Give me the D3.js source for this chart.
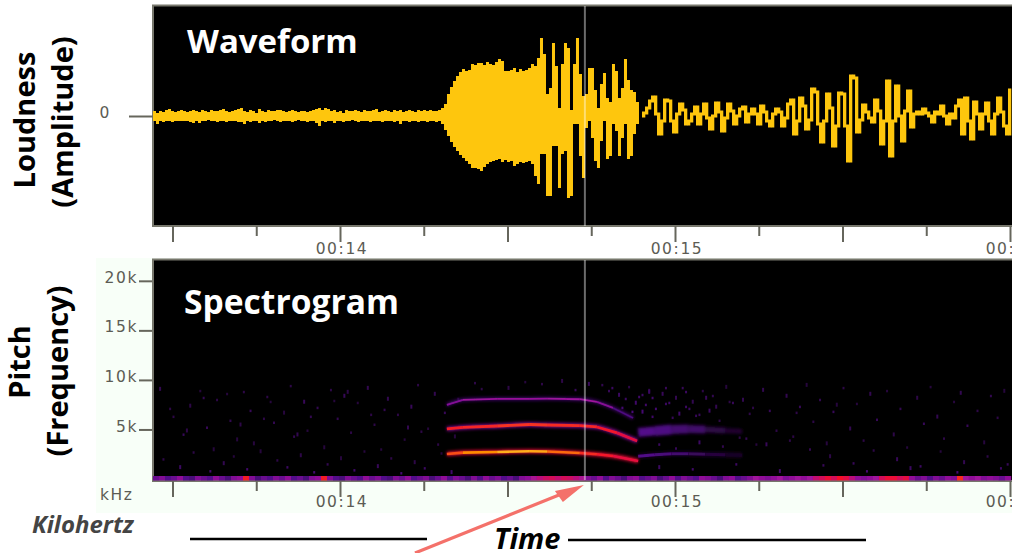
<!DOCTYPE html>
<html>
<head>
<meta charset="utf-8">
<script src="https://cdn.jsdelivr.net/npm/d3@7"></script>
<style>
  html, body { margin: 0; padding: 0; background: #fff; overflow: hidden; }
  .tick-label { font-family: "DejaVu Sans", sans-serif; font-size: 15.5px; fill: #5c5c54; letter-spacing: 1.6px; }
  .panel-title { font-family: "Open Sans", sans-serif; font-weight: 700; fill: #fff; }
  .axis-title { font-family: "Open Sans", sans-serif; font-weight: 700; fill: #000; }
</style>
</head>
<body>
<svg id="chart" width="1012" height="553">
  <defs>
    <filter id="soft" filterUnits="userSpaceOnUse" x="0" y="0" width="1012" height="553"><feGaussianBlur stdDeviation="0.45"/></filter>
    <filter id="softer" filterUnits="userSpaceOnUse" x="0" y="0" width="1012" height="553"><feGaussianBlur stdDeviation="0.7"/></filter>
    <filter id="softest" filterUnits="userSpaceOnUse" x="0" y="0" width="1012" height="553"><feGaussianBlur stdDeviation="1.4"/></filter>
  </defs>
</svg>
<script>
// time of the first waveform column, and the seconds each column covers
var waveStart = 13.4418;
var waveStep = 0.008955;

// loud part of the recording: top and bottom of each column
var waveHigh = [
  5,3,5,4,6,7,5,4,5,6,5,4,5,6,5,4,6,5,4,6,5,5,6,7,5,4,5,6,7,8,
  5,4,6,5,3,7,5,4,6,5,5,6,6,5,4,5,6,5,4,5,5,4,5,6,7,8,6,8,7,5,
  6,4,5,3,6,5,5,6,5,4,6,5,5,6,7,4,5,6,5,4,6,5,6,4,5,6,5,4,6,5,
  6,5,6,5,5,6,8,12,
  22,29,35,40,44,47,45,46,52,51,53,53,51,54,52,51,54,57,55,45,45,46,48,44,47,45,46,48,52,50,
  58,78,62,22,28,73,50,8,52,73,68,6,52,78,42,20,22,48,48,26,8,32,43,18,14,52,45,18,28,57,
  36,26,24,14,5
];
var waveLow = [
  -5,-8,-5,-6,-5,-5,-6,-5,-5,-5,-5,-5,-6,-7,-5,-7,-5,-5,-4,-5,-5,-6,-5,-5,-6,-5,-5,-5,-6,-6,
  -8,-5,-6,-5,-5,-7,-5,-6,-5,-5,-4,-5,-6,-5,-5,-5,-6,-5,-4,-5,-5,-6,-5,-5,-7,-10,-5,-6,-5,-5,
  -7,-5,-5,-6,-5,-5,-4,-5,-6,-5,-5,-5,-6,-5,-5,-5,-6,-5,-5,-5,-6,-5,-8,-5,-5,-6,-5,-5,-6,-5,
  -5,-6,-5,-5,-6,-5,-8,-14,
  -20,-26,-31,-35,-39,-42,-45,-48,-52,-52,-53,-55,-51,-48,-46,-45,-44,-43,-46,-44,-46,-45,-50,-48,-46,-47,-46,-45,-48,-60,
  -68,-38,-38,-80,-80,-30,-30,-72,-38,-35,-82,-80,-8,-8,-40,-62,-12,-5,-22,-45,-52,-25,-5,-43,-40,-8,-15,-40,-22,-8,
  -43,-40,-18,-8,-8
];

// quieter part: a thin trace, one value per column
var traceStart = 14.9015;
var traceValues = [
  0,3,8,15,19,2,-18,-5,16,15,-5,-16,2,12,6,-8,-5,2,9,-8,2,12,-2,-13,0,13,4,-15,-2,12,
  5,-8,0,7,9,-6,2,7,2,-8,10,4,-5,-10,2,7,4,-10,-2,12,16,-18,-5,18,10,-13,-4,27,24,-8,
  -26,-5,22,8,-30,-10,23,22,-10,-45,40,38,-16,-4,11,4,-2,-6,16,5,-28,-5,35,-40,-5,30,0,-25,5,25,
  -11,2,4,2,7,3,0,-6,4,2,10,0,-8,2,-2,10,16,-18,18,-5,-23,14,2,-13,2,13,-5,-18,2,18,
  4,-10,-18,26
];

// the three harmonics of the call: time, kHz and strength along each one
var harmonicTimes = [14.319, 14.367, 14.469, 14.567, 14.618, 14.716, 14.767, 14.815, 14.875];
var upperKhz = [7.47, 7.98, 8.08, 8.09, 8.11, 8.05, 7.78, 7.17, 6.16];
var upperLevel = [0.4, 0.46, 0.52, 0.44, 0.52, 0.46, 0.54, 0.34, 0.2];
var middleTimes = [14.319, 14.367, 14.469, 14.567, 14.618, 14.716, 14.767, 14.827, 14.887];
var middleKhz = [5.05, 5.22, 5.35, 5.5, 5.45, 5.38, 5.25, 4.65, 3.84];
var middleLevel = [0.72, 0.72, 0.74, 0.76, 0.74, 0.74, 0.72, 0.7, 0.62];
var lowerTimes = [14.319, 14.367, 14.469, 14.567, 14.618, 14.716, 14.767, 14.815, 14.89];
var lowerKhz = [2.53, 2.66, 2.73, 2.8, 2.78, 2.63, 2.5, 2.32, 1.82];
var lowerLevel = [0.74, 0.84, 0.92, 0.94, 0.9, 0.76, 0.72, 0.7, 0.64];

// faint echoes left behind after the call
var tailTimes = [14.89, 14.94, 14.99, 15.04, 15.09, 15.15, 15.2];
var tailUpperKhz = [4.7, 4.85, 5.0, 5.05, 5.0, 4.9, 4.8];
var tailUpperWidth = [9, 10, 9, 8, 6, 5, 3];
var tailLowerKhz = [2.3, 2.45, 2.55, 2.55, 2.5, 2.45, 2.4];
var tailLevel = [0.3, 0.28, 0.24, 0.22, 0.14, 0.1, 0.05];

// low rumble along the bottom of the spectrogram, one value every 6 pixels
var rumbleLevels = [
  .36,.42,.3,.36,.46,.3,.26,.42,.36,.3,.46,.36,.26,.42,.46,.72,.42,.26,.36,.3,.42,.36,.46,.3,.36,.26,.42,.46,.72,
  .42,.3,.26,.42,.36,.3,.46,.36,.42,.3,.26,.42,.36,.46,.3,.36,.42,.26,.36,.46,.3,.42,.36,.26,.42,.3,.46,.36,.42,.3,.36,.26,.42,.46,
  .52,.56,.6,.62,.58,.62,.6,.56,.52,
  .42,.36,.46,.3,.42,.36,.26,.42,.46,.3,.36,.42,.26,.36,.46,.3,.42,.36,.3,.46,.42,.36,.26,.42,.46,.3,.36,.42,.5,.46,.42,.46,.5,.42,.46,.5,.46,.5,
  .58,.62,.68,.62,.7,.66,.56,.46,.42,.46,.5,.62,.68,.68,.62,.66,.46,.36,.42,.3,.42,.36,.46,.42,.74,.5,.46,.5,.42,.46,.42,.36,.46
];

// scattered noise specks
var speckTimes = [
  13.46,13.5,13.53,13.55,13.58,13.6,13.62,13.63,13.67,13.69,13.71,13.73,13.74,13.78,13.8,13.83,13.85,13.86,13.89,13.9,
  13.93,13.95,13.97,13.99,14.01,14.03,14.05,14.08,14.1,14.12,14.14,14.17,14.19,14.21,14.23,14.26,14.28,14.29,14.31,14.34,
  14.42,14.55,14.66,14.78,14.8,14.83,14.85,14.86,14.88,14.9,14.91,14.92,14.93,14.94,14.96,14.97,14.99,15.0,15.02,15.03,
  15.05,15.06,15.08,15.1,15.11,15.13,15.15,15.17,15.19,15.2,15.22,15.24,15.26,15.28,15.3,15.33,15.35,15.37,15.39,15.41,
  15.43,15.45,15.47,15.5,15.52,15.54,15.56,15.58,15.6,15.63,15.65,15.67,15.69,15.72,15.74,15.76,15.78,15.8,15.83,15.85,
  15.87,15.9,15.92,15.94,15.96,15.98,14.84,14.87,14.9,14.93,14.98,15.01,15.04,15.07,15.12,15.16,
  13.47,13.52,13.56,13.61,13.65,13.68,13.72,13.76,13.81,13.84,13.88,13.92,13.96,14.0,14.04,14.07,14.11,14.15,14.18,14.22,
  14.25,14.3,14.33,13.49,13.59,13.7,13.79,13.91,14.02,14.13,14.24,14.35,14.95,15.0,15.07,15.14,15.21,15.27,15.34,15.4,
  15.46,15.53,15.59,15.66,15.73,15.79,15.86,15.93,15.99,14.95,15.05,15.18,15.31,15.44,15.57,15.7,15.84,15.97,13.54,13.66,
  13.77,13.87,13.98,14.09,14.2,14.32,14.4,14.5,14.6,14.7,14.74,14.81,14.89,14.92,14.97,15.03,15.09,15.23,15.36,15.48
];
var speckKhz = [
  9.3,6.4,4.6,7.6,9.0,5.3,3.2,8.1,6.0,4.2,8.9,7.0,3.8,8.4,5.8,6.9,9.5,4.4,8.0,5.0,
  7.3,3.4,9.1,6.2,8.6,4.8,7.8,9.4,5.6,3.1,8.3,6.6,4.1,7.5,9.6,5.2,8.8,3.6,6.8,4.5,
  9.2,9.9,10.1,9.6,9.0,8.7,8.2,9.4,7.9,8.6,7.6,9.1,8.3,7.2,8.8,7.7,6.3,8.4,9.3,7.4,
  8.0,6.5,9.0,7.1,8.5,6.0,9.5,7.8,4.3,8.2,6.7,3.6,9.2,7.0,5.0,8.6,4.4,7.4,9.7,5.9,
  8.1,3.8,6.9,9.3,5.3,7.7,4.0,8.8,6.1,9.0,4.7,7.2,3.3,8.4,5.7,9.4,6.5,4.2,7.9,8.9,
  5.5,7.0,3.9,8.5,6.3,9.1,7.3,6.9,7.0,6.4,7.8,6.8,7.2,6.6,7.5,7.9,
  2.1,1.4,2.8,0.9,1.8,2.4,1.1,3.0,2.0,1.3,2.6,0.8,1.6,2.3,1.0,2.9,1.5,2.2,0.7,1.9,
  1.2,2.7,0.9,7.2,8.3,5.7,7.9,6.4,9.0,7.1,4.9,8.2,3.6,3.2,3.9,3.4,4.2,3.7,4.0,3.1,
  2.5,1.7,3.0,2.2,1.4,2.9,1.9,2.4,1.6,1.4,1.1,1.6,1.0,1.5,0.9,1.3,0.8,1.2,5.1,8.7,
  6.2,4.7,8.0,6.6,5.4,7.6,9.8,9.4,9.7,9.1,9.8,9.3,8.4,9.0,9.3,8.9,8.4,7.3,6.8,7.7
];
var speckLevels = [
  .16,.14,.18,.14,.12,.18,.12,.14,.16,.12,.14,.18,.12,.14,.16,.12,.14,.16,.18,.12,
  .16,.12,.14,.16,.18,.14,.12,.16,.14,.12,.16,.14,.12,.18,.14,.12,.16,.14,.18,.12,
  .14,.12,.14,.16,.18,.2,.2,.14,.22,.2,.22,.16,.22,.24,.18,.2,.18,.16,.18,.2,
  .16,.18,.14,.2,.16,.14,.12,.18,.14,.16,.14,.12,.16,.18,.14,.16,.14,.18,.12,.14,
  .16,.12,.18,.14,.16,.12,.14,.16,.18,.12,.14,.16,.12,.14,.18,.12,.16,.14,.12,.16,
  .18,.14,.12,.16,.14,.12,.24,.26,.24,.22,.2,.22,.2,.18,.16,.14,
  .14,.2,.14,.24,.16,.12,.22,.12,.14,.2,.14,.24,.16,.12,.22,.12,.18,.14,.24,.14,
  .2,.12,.22,.14,.16,.14,.12,.16,.14,.16,.14,.12,.2,.18,.2,.16,.16,.18,.14,.16,
  .14,.18,.14,.18,.2,.12,.16,.14,.18,.2,.22,.2,.22,.18,.24,.2,.24,.2,.14,.12,
  .14,.16,.12,.14,.16,.12,.14,.14,.14,.18,.18,.2,.22,.2,.18,.2,.18,.14,.14,.12
];

var majorTicks = [13.5, 14, 14.5, 15, 15.5, 16];
var minorTicks = [13.75, 14.25, 14.75, 15.25, 15.75];
var labelledTicks = [14, 15, 16];
var freqTicks = [5, 10, 15, 20];
var cursorTime = 14.731;

var svg = d3.select('#chart');

var x = d3.scaleLinear().domain([13.5, 16]).range([172.5, 1010]);
var amp = d3.scaleLinear().domain([-110, 110]).range([226, 6]);
var freq = d3.scaleLinear().domain([0, 22]).range([479, 261]);

// colour of the spectrogram from silence up to the loudest energy
var heat = d3.scaleLinear()
  .domain([0, 0.15, 0.3, 0.5, 0.7, 0.88, 1])
  .range(['#000000', '#30084c', '#52098a', '#a0129c', '#f4102c', '#ff8c00', '#ffe040']);

function columnTime(i) {
  return waveStart + i * waveStep;
}
function traceTime(i) {
  return traceStart + i * waveStep;
}

//背景
svg.append('rect').attr('x', 96).attr('y', 258).attr('width', 916).attr('height', 255).attr('fill', '#f8fff8');

//枠
svg.append('rect').attr('x', 153).attr('y', 5.5).attr('width', 870).attr('height', 220.5)
  .attr('fill', '#000').attr('stroke', '#77776c').attr('stroke-width', 2);
svg.append('rect').attr('x', 153).attr('y', 259.5).attr('width', 870).attr('height', 221.5)
  .attr('fill', '#000').attr('stroke', '#77776c').attr('stroke-width', 2);

//波形
var wave = svg.append('g').attr('filter', 'url(#soft)');
var band = d3.area()
  .x(function(d, i) { return x(columnTime(i)); })
  .y0(function(d, i) { return amp(waveLow[i]); })
  .y1(function(d) { return amp(d); })
  .curve(d3.curveStepAfter);
wave.append('path').attr('d', band(waveHigh)).attr('fill', '#fec610');

// each column of the trace joins one value to the next, with a little body
wave.selectAll('rect.column')
  .data(d3.pairs(traceValues))
  .enter()
  .append('rect')
  .attr('class', 'column')
  .attr('x', function(d, i) { return x(traceTime(i)); })
  .attr('y', function(d) { return amp(Math.max(d[0], d[1]) + 1.5); })
  .attr('width', x(traceTime(1)) - x(traceTime(0)) + 0.3)
  .attr('height', function(d) { return amp(Math.min(d[0], d[1]) - 1.5) - amp(Math.max(d[0], d[1]) + 1.5); })
  .attr('fill', '#fec610');

//スペクトログラム
var spec = svg.append('g');

spec.selectAll('rect.speck')
  .data(speckTimes)
  .enter()
  .append('rect')
  .attr('class', 'speck')
  .attr('x', function(d) { return x(d); })
  .attr('y', function(d, i) { return freq(speckKhz[i]); })
  .attr('width', 2)
  .attr('height', function(d, i) { return i % 3 == 0 ? 4 : 2.5; })
  .attr('fill', function(d, i) { return heat(speckLevels[i]); });

var soft = spec.append('g').attr('filter', 'url(#soft)');
soft.selectAll('rect.rumble')
  .data(rumbleLevels)
  .enter()
  .append('rect')
  .attr('class', 'rumble')
  .attr('x', function(d, i) { return x(waveStart + i * 2 * waveStep); })
  .attr('y', 476)
  .attr('width', 6.2)
  .attr('height', 4.5)
  .attr('fill', function(d) { return heat(d); });

// one harmonic is drawn as short pieces, each with its own colour
function drawHarmonic(times, khz, levels, width, glow) {
  var pieces = d3.pairs(d3.range(times.length));
  var line = d3.line()
    .x(function(i) { return x(times[i]); })
    .y(function(i) { return freq(khz[i]); })
    .curve(d3.curveMonotoneX);
  var halo = spec.append('g').attr('fill', 'none').attr('filter', 'url(#softest)');
  halo.append('path').attr('d', line(d3.range(times.length)))
    .attr('stroke', heat(glow)).attr('stroke-width', width + 2).attr('opacity', 0.85);
  var g = spec.append('g').attr('fill', 'none').attr('filter', 'url(#softer)');
  g.selectAll('path.piece')
    .data(pieces)
    .enter()
    .append('path')
    .attr('class', 'piece')
    .attr('d', function(d) { return line(d); })
    .attr('stroke', function(d) { return heat((levels[d[0]] + levels[d[1]]) / 2); })
    .attr('stroke-width', width);
}

// the wide echo changes thickness as it fades
var echo = spec.append('g').attr('filter', 'url(#softest)');
echo.selectAll('path')
  .data(d3.pairs(d3.range(tailTimes.length)))
  .enter()
  .append('path')
  .attr('d', function(d) {
    return d3.line()
      .x(function(i) { return x(tailTimes[i]); })
      .y(function(i) { return freq(tailUpperKhz[i]); })(d);
  })
  .attr('fill', 'none')
  .attr('stroke', function(d) { return heat(tailLevel[d[0]]); })
  .attr('stroke-width', function(d) { return tailUpperWidth[d[0]]; });

drawHarmonic(tailTimes, tailLowerKhz, tailLevel, 3, 0.08);
drawHarmonic(harmonicTimes, upperKhz, upperLevel, 1.8, 0.22);
drawHarmonic(middleTimes, middleKhz, middleLevel, 2.8, 0.45);
drawHarmonic(lowerTimes, lowerKhz, lowerLevel, 2.6, 0.68);

//カーソル
[[6, 226], [260, 480]].forEach(function(span) {
  svg.append('line')
    .attr('x1', x(cursorTime)).attr('x2', x(cursorTime))
    .attr('y1', span[0]).attr('y2', span[1])
    .attr('stroke', '#fff').attr('stroke-opacity', 0.42).attr('stroke-width', 2);
});

//時間軸
function drawTimeAxis(top, labelY) {
  var major = d3.axisBottom(x).tickValues(majorTicks).tickSize(16).tickFormat('');
  var minor = d3.axisBottom(x).tickValues(minorTicks).tickSize(10).tickFormat('');
  [major, minor].forEach(function(axis) {
    var g = svg.append('g').attr('transform', 'translate(0,' + top + ')').call(axis);
    g.select('.domain').remove();
    g.selectAll('line').attr('stroke', '#66665c').attr('stroke-width', 2);
  });
  svg.selectAll(null)
    .data(labelledTicks)
    .enter()
    .append('text')
    .attr('class', 'tick-label')
    .attr('x', function(d) { return x(d) + 2; })
    .attr('y', labelY)
    .attr('text-anchor', 'middle')
    .text(function(d) { return '00:' + d; });
}
drawTimeAxis(226, 254);
drawTimeAxis(481, 507);

//周波数軸
var freqAxis = d3.axisLeft(freq).tickValues(freqTicks).tickSize(13).tickPadding(1)
  .tickFormat(function(d) { return d + 'k'; });
var freqG = svg.append('g').attr('transform', 'translate(152,0)').call(freqAxis);
freqG.select('.domain').remove();
freqG.selectAll('line').attr('stroke', '#66665c').attr('stroke-width', 2);
freqG.selectAll('text').attr('class', 'tick-label').attr('dy', '0.1em');

svg.append('text').attr('class', 'tick-label').attr('x', 100).attr('y', 499.5).text('kHz');

var ampAxis = d3.axisLeft(amp).tickValues([0]).tickSize(24).tickPadding(18);
var ampG = svg.append('g').attr('transform', 'translate(153,0)').call(ampAxis);
ampG.select('.domain').remove();
ampG.selectAll('line').attr('stroke', '#66665c').attr('stroke-width', 2);
ampG.selectAll('text').attr('class', 'tick-label').attr('dy', '0.1em');

//見出し
svg.append('text').attr('class', 'panel-title').attr('x', 187).attr('y', 53).attr('font-size', 33).text('Waveform');
svg.append('text').attr('class', 'panel-title').attr('x', 184).attr('y', 314).attr('font-size', 33.6).text('Spectrogram');

function sideTitle(label, px, py, size) {
  svg.append('text')
    .attr('class', 'axis-title')
    .attr('transform', 'translate(' + px + ',' + py + ') rotate(-90)')
    .attr('text-anchor', 'middle')
    .attr('font-size', size)
    .text(label);
}
sideTitle('Loudness', 35, 120, 29);
sideTitle('(Amplitude)', 73, 122, 29);
sideTitle('Pitch', 30, 362, 29);
sideTitle('(Frequency)', 68, 371, 29);

svg.append('text').attr('x', 32).attr('y', 533)
  .attr('font-family', '"Open Sans", sans-serif').attr('font-weight', 700).attr('font-style', 'italic')
  .attr('font-size', 24).attr('fill', '#444').text('Kilohertz');
svg.append('text').attr('x', 494).attr('y', 549)
  .attr('font-family', '"Open Sans", sans-serif').attr('font-weight', 700).attr('font-style', 'italic')
  .attr('font-size', 29).attr('fill', '#000').text('Time');

svg.append('line').attr('x1', 190).attr('x2', 427).attr('y1', 539).attr('y2', 539)
  .attr('stroke', '#000').attr('stroke-width', 2.5);
svg.append('line').attr('x1', 568).attr('x2', 866).attr('y1', 540).attr('y2', 540)
  .attr('stroke', '#000').attr('stroke-width', 2.5);

//矢印
var tipX = x(cursorTime) - 1;
var tipY = 485;
svg.append('line').attr('x1', 415).attr('y1', 553).attr('x2', tipX - 20).attr('y2', tipY + 8)
  .attr('stroke', '#f4716a').attr('stroke-width', 3.2);
svg.append('path')
  .attr('d', d3.line()([[tipX, tipY], [tipX - 29, tipY + 6], [tipX - 21, tipY + 17]]))
  .attr('fill', '#f4716a');
</script>
</body>
</html>
